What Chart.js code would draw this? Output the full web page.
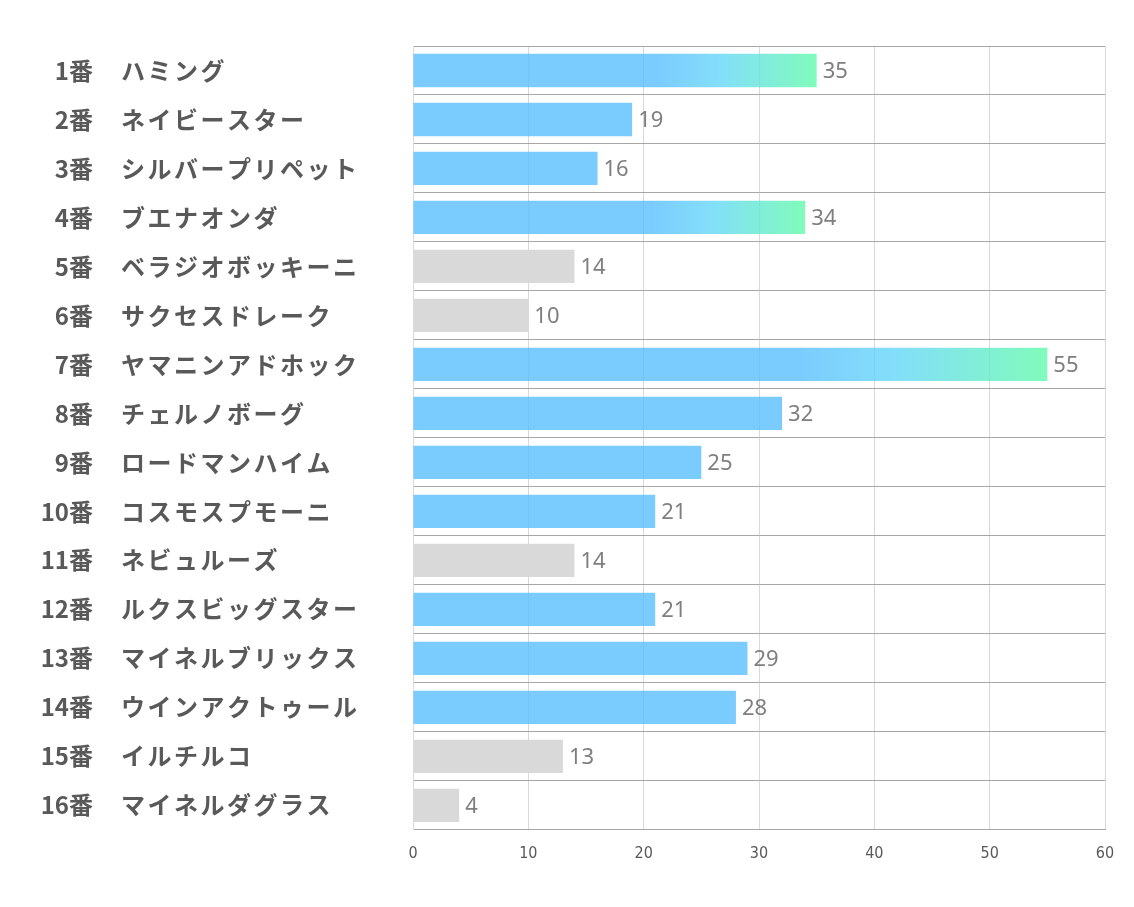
<!DOCTYPE html>
<html>
<head>
<meta charset="utf-8">
<script src="https://cdn.jsdelivr.net/npm/chart.js@4.4.1/dist/chart.umd.min.js"></script>
<style>
  html, body { margin: 0; padding: 0; background: #fff; }
  #wrap { width: 1134px; height: 907px; }
</style>
</head>
<body>
<div id="wrap"><canvas id="chart"></canvas></div>
<script>
const horseNums = ['1番','2番','3番','4番','5番','6番','7番','8番','9番','10番','11番','12番','13番','14番','15番','16番'];
const horseNames = ['ハミング','ネイビースター','シルバープリペット','ブエナオンダ','ベラジオボッキーニ','サクセスドレーク',
    'ヤマニンアドホック','チェルノボーグ','ロードマンハイム','コスモスプモーニ','ネビュルーズ','ルクスビッグスター',
    'マイネルブリックス','ウインアクトゥール','イルチルコ','マイネルダグラス'];
const scores = [35, 19, 16, 34, 14, 10, 55, 32, 25, 21, 14, 21, 29, 28, 13, 4];
const xTicks = [0, 10, 20, 30, 40, 50, 60];

const TOP_LINE = 34;   // bars at or above get the green fade
const LOW_LINE = 14;   // bars at or below are grey
const BLUE = 'rgba(89,190,254,0.8)';

function barColor(ctx) {
    const v = ctx.raw;
    if (v <= LOW_LINE) return '#d9d9d9';
    if (v < TOP_LINE) return BLUE;
    const chart = ctx.chart;
    const x = chart.scales.x;
    if (!chart.chartArea || !x) return BLUE;
    const x0 = x.getPixelForValue(0);
    const x1 = x.getPixelForValue(v);
    if (!isFinite(x0) || !isFinite(x1) || x1 <= x0) return BLUE;
    const g = chart.ctx.createLinearGradient(x0, 0, x1, 0);
    g.addColorStop(0, BLUE);
    g.addColorStop(0.6, BLUE);
    g.addColorStop(0.76, 'rgba(100,214,248,0.8)');
    g.addColorStop(1, 'rgba(96,250,170,0.8)');
    return g;
}

const labelPlugin = {
    id: 'horseLabels',
    afterDraw(chart) {
        const c = chart.ctx;
        const y = chart.scales.y;
        c.save();
        c.fillStyle = '#595959';
        c.font = 'bold 24px "Noto Sans CJK JP", sans-serif';
        c.textBaseline = 'middle';
        horseNums.forEach((n, i) => {
            const py = y.getPixelForTick(i);
            c.textAlign = 'right';
            c.letterSpacing = '0px';
            c.fillText(n, 93, py);
            c.textAlign = 'left';
            c.letterSpacing = '2.5px';
            c.fillText(horseNames[i], 121, py);
        });
        c.restore();
    }
};

const valuePlugin = {
    id: 'valueLabels',
    afterDatasetsDraw(chart) {
        const c = chart.ctx;
        const meta = chart.getDatasetMeta(0);
        c.save();
        c.fillStyle = '#7f7f7f';
        c.font = '22px "Noto Sans", sans-serif';
        c.textAlign = 'left';
        c.textBaseline = 'middle';
        meta.data.forEach((bar, i) => {
            c.fillText(String(scores[i]), bar.x + 6, bar.y + 1);
        });
        c.restore();
    }
};

new Chart(document.getElementById('chart'), {
    type: 'bar',
    data: {
        labels: horseNames,
        datasets: [{
            data: scores,
            backgroundColor: barColor,
            borderWidth: 0,
            barPercentage: 0.68,
            categoryPercentage: 1
        }]
    },
    options: {
        indexAxis: 'y',
        responsive: true,
        maintainAspectRatio: false,
        animation: false,
        layout: { padding: { left: 413, right: 29, top: 46, bottom: 30 } },
        plugins: { legend: { display: false }, tooltip: { enabled: false } },
        scales: {
            x: {
                min: 0, max: 60,
                afterBuildTicks: s => { s.ticks = xTicks.map(v => ({ value: v })); },
                grid: { color: '#d9d9d9', drawTicks: false },
                border: { color: '#a6a6a6' },
                ticks: {
                    color: '#595959',
                    font: { family: '"Liberation Sans Narrow", "DejaVu Sans Condensed", sans-serif', size: 16 },
                    padding: 14
                }
            },
            y: {
                grid: { color: '#a6a6a6', drawTicks: false, offset: true },
                border: { color: '#d9d9d9' },
                ticks: { display: false }
            }
        }
    },
    plugins: [labelPlugin, valuePlugin]
});
</script>
</body>
</html>
